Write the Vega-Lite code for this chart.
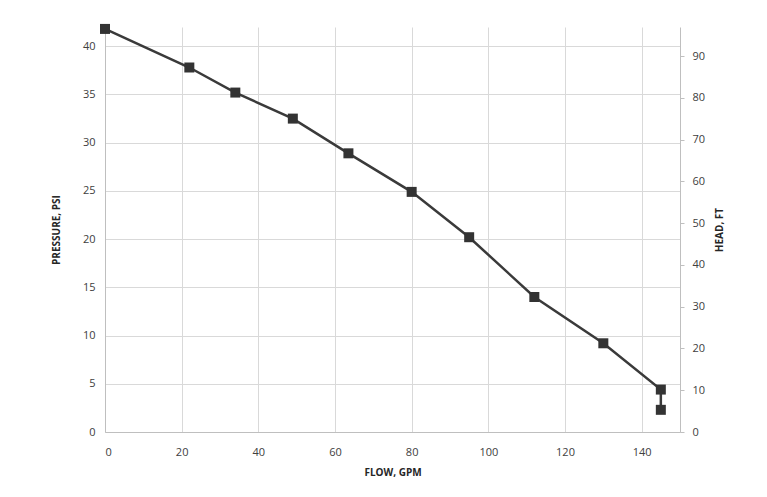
{
  "$schema": "https://vega.github.io/schema/vega-lite/v6.json",
  "width": 575,
  "height": 405,
  "autosize": {"type": "none"},
  "padding": {"left": 105, "top": 27, "right": 87, "bottom": 65},
  "background": "white",
  "config": {
    "view": {"stroke": null},
    "font": "Open Sans",
    "axis": {
      "labelFont": "Open Sans",
      "titleFont": "Open Sans",
      "labelColor": "#404040",
      "titleColor": "#262626",
      "labelFontSize": 11,
      "titleFontSize": 10,
      "titleFontWeight": "bold",
      "gridColor": "#d9d9d9",
      "gridWidth": 1,
      "domainColor": "#bfbfbf",
      "tickColor": "#bfbfbf",
      "tickSize": 4
    }
  },
  "data": {
    "values": [
      {"order": 1, "flow": 0, "psi": 41.8, "head": 96.6},
      {"order": 2, "flow": 22, "psi": 37.8, "head": 87.3},
      {"order": 3, "flow": 34, "psi": 35.2, "head": 81.3},
      {"order": 4, "flow": 49, "psi": 32.5, "head": 75.1},
      {"order": 5, "flow": 63.5, "psi": 28.9, "head": 66.8},
      {"order": 6, "flow": 80, "psi": 24.9, "head": 57.5},
      {"order": 7, "flow": 95, "psi": 20.2, "head": 46.7},
      {"order": 8, "flow": 112, "psi": 14.0, "head": 32.3},
      {"order": 9, "flow": 130, "psi": 9.2, "head": 21.3},
      {"order": 10, "flow": 145, "psi": 4.4, "head": 10.2},
      {"order": 11, "flow": 145, "psi": 2.3, "head": 5.3}
    ]
  },
  "layer": [
    {
      "layer": [
        {
          "mark": {"type": "line", "color": "#3a3a3a", "strokeWidth": 2.5},
          "encoding": {
            "x": {
              "field": "flow", "type": "quantitative",
              "scale": {"domain": [0, 150], "nice": false, "zero": true},
              "axis": {"title": "FLOW, GPM", "values": [0, 20, 40, 60, 80, 100, 120, 140], "grid": true, "ticks": false, "labelPadding": 14, "titlePadding": 10}
            },
            "y": {
              "field": "psi", "type": "quantitative",
              "scale": {"domain": [0, 42], "nice": false},
              "axis": {"title": "PRESSURE, PSI", "values": [0, 5, 10, 15, 20, 25, 30, 35, 40], "grid": true, "ticks": false, "labelPadding": 10, "titlePadding": 21}
            },
            "order": {"field": "order", "type": "quantitative"}
          }
        },
        {
          "mark": {"type": "square", "color": "#333333", "size": 100, "opacity": 1, "filled": true},
          "encoding": {
            "x": {"field": "flow", "type": "quantitative"},
            "y": {"field": "psi", "type": "quantitative"}
          }
        }
      ]
    },
    {
      "mark": {"type": "point", "opacity": 0},
      "encoding": {
        "x": {"field": "flow", "type": "quantitative"},
        "y": {
          "field": "head", "type": "quantitative",
          "scale": {"domain": [0, 97], "nice": false},
          "axis": {"orient": "right", "title": "HEAD, FT", "titleAngle": -90, "values": [0, 10, 20, 30, 40, 50, 60, 70, 80, 90], "grid": false, "labelPadding": 8, "titlePadding": 20}
        }
      }
    }
  ],
  "resolve": {"scale": {"y": "independent"}, "axis": {"y": "independent"}}
}
